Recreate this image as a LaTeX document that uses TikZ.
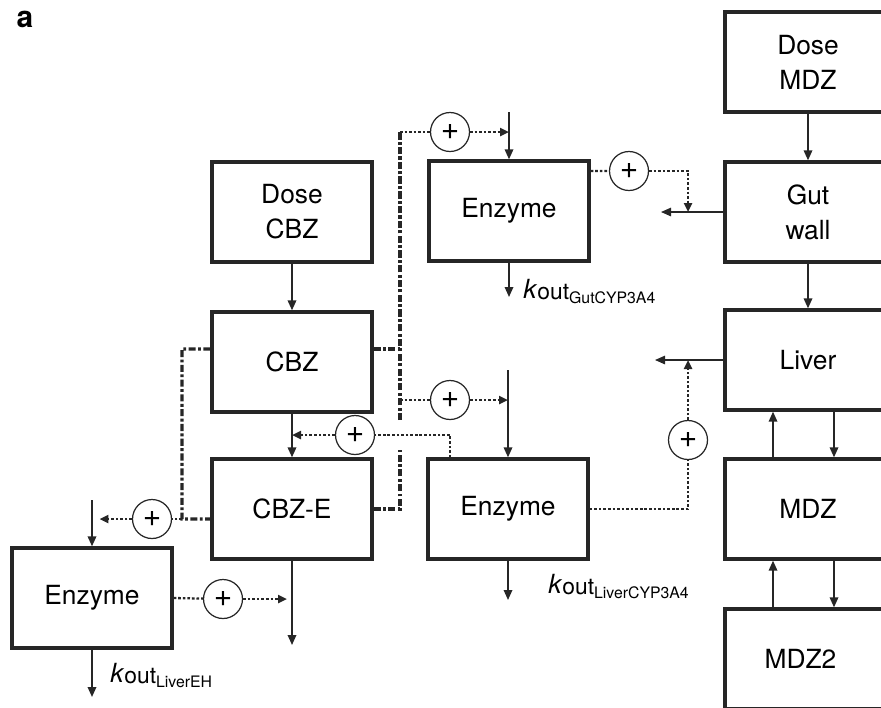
\documentclass[tikz,border=0pt]{standalone}
\usepackage{fontspec}
\setmainfont{TeX Gyre Heros}
\usetikzlibrary{arrows.meta}

\newcommand{\koutlbl}[1]{\textit{k}\raisebox{-1.1pt}{\fontsize{13}{13}\selectfont out}\raisebox{-3.4pt}{\fontsize{9}{9}\selectfont #1}}

\begin{document}
\begin{tikzpicture}[
  x=0.02cm, y=-0.02cm,
  cmp/.style={rectangle, draw=black!85, line width=1.9pt, minimum width=3.2cm,
    minimum height=2cm, inner sep=0pt, align=center, font=\fontsize{15}{20}\selectfont},
  org/.style={cmp, minimum width=3.32cm},
  plus/.style={circle, draw=black!85, line width=0.7pt, minimum size=0.78cm,
    inner sep=0pt, font=\fontsize{18}{18}\selectfont},
  flow/.style={draw=black!85, line width=1pt, -{Triangle[length=2mm,width=1.7mm]}},
  thin flow/.style={flow, line width=0.7pt},
  sig/.style={draw=black!85, line width=1.3pt, dash pattern=on 1.5pt off 1.1pt},
  sigtip/.style={sig, -{Triangle[length=1.8mm,width=1.6mm]}},
  bus/.style={draw=black!85, line width=1.8pt, dash pattern=on 4pt off 1.4pt on 1.6pt off 1.4pt},
  klbl/.style={anchor=base west, inner sep=0pt, font=\fontsize{15}{15}\selectfont},
]
\clip (0,0) rectangle (881,707);

% Panel label
\node[font=\bfseries\fontsize{17}{17}\selectfont] (panel) at (25,19) {a};

% CBZ compartments
\node[cmp] (doseC) at (292,212) {Dose\\CBZ};
\node[cmp] (cbz) at (292,362) {CBZ};
\node[cmp] (cbze) at (292,509) {CBZ-E};

% Enzyme compartments
\node[cmp] (enzG) at (509,211) {Enzyme};
\node[cmp] (enzL) at (508,509) {Enzyme};
\node[cmp] (enzEH) at (92,598) {Enzyme};

% MDZ compartments
\node[org] (doseM) at (808,62) {Dose\\MDZ};
\node[org] (gut) at (808,212) {Gut\\wall};
\node[org] (liver) at (808,360) {Liver};
\node[org] (mdz) at (808,509) {MDZ};
\node[org] (mdz2) at (808,659) {MDZ2\hspace*{0.3cm}};

% Induction nodes
\node[plus] (pG1) at (450,132) {+};
\node[plus] (pG2) at (629,171) {+};
\node[plus] (pL1) at (450,400) {+};
\node[plus] (pL2) at (688,440) {+};
\node[plus] (pC) at (355,435) {+};
\node[plus] (pE1) at (152,519) {+};
\node[plus] (pE2) at (223,599) {+};

% Free ends
\coordinate (gIn) at (509,112);
\coordinate (gOut) at (509,297);
\coordinate (lIn) at (508,370);
\coordinate (lOut) at (508,600);
\coordinate (ehIn) at (92,500);
\coordinate (ehOut) at (92,697);
\coordinate (cbzeOut) at (292,645);
\coordinate (gutOut) at (661,212);
\coordinate (livOut) at (655,360);
\coordinate (gTap) at (688,212);
\coordinate (busT) at (400,132);
\coordinate (busB) at (400,420);
\coordinate (busE) at (400,450);
\coordinate (lbus) at (182,519);

% CBZ flows
\draw[flow] (doseC) -- (cbz);
\draw[flow] (cbz) -- (cbze);
\draw[flow] (cbze) -- (cbzeOut);

% MDZ flows
\draw[flow] (doseM) -- (gut);
\draw[flow] (gut) -- (liver);
\draw[flow] ([xshift=-0.7cm]mdz.north) -- ([xshift=-0.7cm]liver.south);
\draw[flow] ([xshift=0.52cm]liver.south) -- ([xshift=0.52cm]mdz.north);
\draw[flow] ([xshift=-0.7cm]mdz2.north) -- ([xshift=-0.7cm]mdz.south);
\draw[flow] ([xshift=0.52cm]mdz.south) -- ([xshift=0.52cm]mdz2.north);
\draw[thin flow] (gut) -- (gutOut);
\draw[thin flow] (liver) -- (livOut);

% Enzyme turnover
\draw[flow] (gIn) -- (enzG);
\draw[flow] (enzG) -- (gOut);
\draw[flow] (lIn) -- (enzL);
\draw[flow] (enzL) -- (lOut);
\draw[flow] (ehIn) -- (enzEH);
\draw[flow] (enzEH) -- (ehOut);
\node[klbl] (kG) at (523,298) {\koutlbl{GutCYP3A4}};
\node[klbl] (kL) at (548,593) {\koutlbl{LiverCYP3A4}};
\node[klbl] (kEH) at (110,682) {\koutlbl{LiverEH}};

% Induction by CBZ and CBZ-E
\draw[bus] (busB) -- (busT);
\draw[bus] ([yshift=0.26cm]cbz.east) -| (busT);
\draw[bus] (cbze.east) -| (busE);
\draw[sig] (busT) -- (pG1);
\draw[sigtip] (pG1) -- (pG1 -| gIn);
\draw[sig] (pL1 -| busT) -- (pL1);
\draw[sigtip] (pL1) -- (pL1 -| lIn);
\draw[bus] ([yshift=0.26cm]cbz.west) -| (lbus) -- ([yshift=-0.2cm]cbze.west);
\draw[sig] (lbus) -- (pE1);
\draw[sigtip, shorten >=0.15cm] (pE1) -- (pE1 -| ehIn);

% Enzyme effects
\draw[sig] ([yshift=0.8cm]enzG.east) -- (pG2);
\draw[sigtip] (pG2) -| (gTap);
\draw[sig] (enzL.east) -| (pL2);
\draw[sigtip] (pL2) -- (pL2 |- livOut);
\draw[sig] ([xshift=-1.16cm]enzL.north) |- (pC);
\draw[sigtip] (pC) -- (pC -| cbz.south);
\draw[sig] (enzEH.east) -- (pE2);
\draw[sigtip, shorten >=0.1cm] (pE2) -- (pE2 -| cbzeOut);

\end{tikzpicture}
\end{document}
